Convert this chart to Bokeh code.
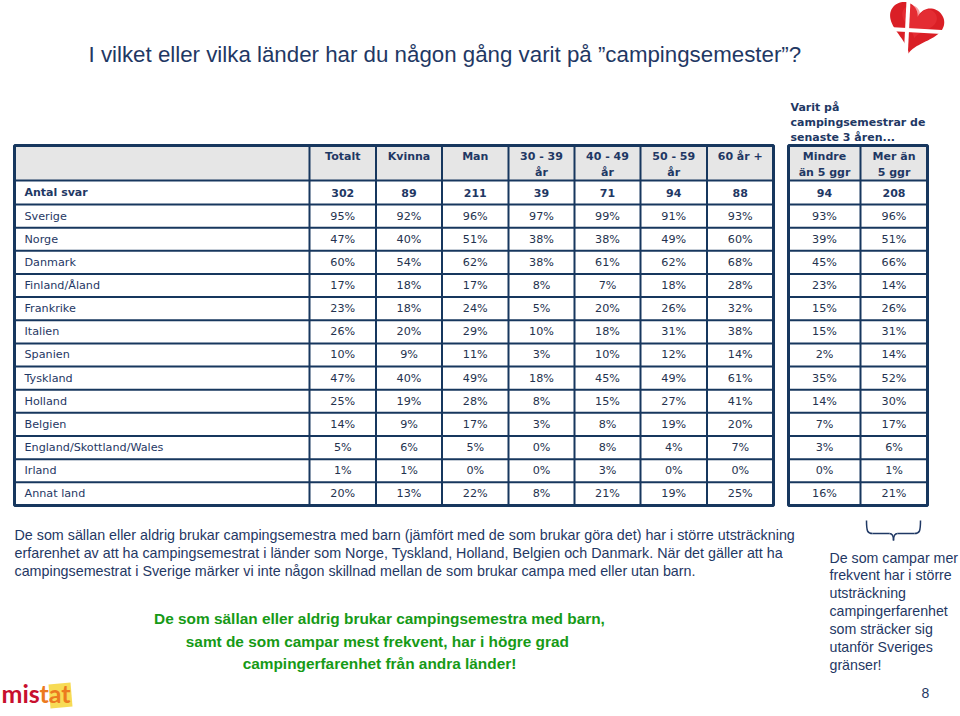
import numpy as np
from bokeh.plotting import figure
from bokeh.models import Range1d
from bokeh.core.properties import value
from bokeh.embed import file_html
from bokeh.resources import INLINE

# ---------------- data ----------------
title = "I vilket eller vilka länder har du någon gång varit på ”campingsemester”?"
countries = ["Sverige", "Norge", "Danmark", "Finland/Åland", "Frankrike", "Italien",
             "Spanien", "Tyskland", "Holland", "Belgien", "England/Skottland/Wales",
             "Irland", "Annat land"]
columns = ["Totalt", "Kvinna", "Man", "30 - 39\når", "40 - 49\når", "50 - 59\når", "60 år +"]
freq_columns = ["Mindre\nän 5 ggr", "Mer än\n5 ggr"]
freq_title = "Varit på\ncampingsemestrar de\nsenaste 3 åren..."
antal_label = "Antal svar"
antal = [302, 89, 211, 39, 71, 94, 88]
antal_freq = [94, 208]

totalt = [95, 47, 60, 17, 23, 26, 10, 47, 25, 14, 5, 1, 20]
kvinna = [92, 40, 54, 18, 18, 20, 9, 40, 19, 9, 6, 1, 13]
man = [96, 51, 62, 17, 24, 29, 11, 49, 28, 17, 5, 0, 22]
age_30_39 = [97, 38, 38, 8, 5, 10, 3, 18, 8, 3, 0, 0, 8]
age_40_49 = [99, 38, 61, 7, 20, 18, 10, 45, 15, 8, 8, 3, 21]
age_50_59 = [91, 49, 62, 18, 26, 31, 12, 49, 27, 19, 4, 0, 19]
age_60 = [93, 60, 68, 28, 32, 38, 14, 61, 41, 20, 7, 0, 25]
mindre_5 = [93, 39, 45, 23, 15, 15, 2, 35, 14, 7, 3, 0, 16]
mer_5 = [96, 51, 66, 14, 26, 31, 14, 52, 30, 17, 6, 1, 21]

main_series = [totalt, kvinna, man, age_30_39, age_40_49, age_50_59, age_60]
freq_series = [mindre_5, mer_5]

paragraph = ["De som sällan eller aldrig brukar campingsemestra med barn (jämfört med de som brukar göra det) har i större utsträckning",
             "erfarenhet av att ha campingsemestrat i länder som Norge, Tyskland, Holland, Belgien och Danmark. När det gäller att ha",
             "campingsemestrat i Sverige märker vi inte någon skillnad mellan de som brukar campa med eller utan barn."]
green_lines = ["De som sällan eller aldrig brukar campingsemestra med barn,",
               "samt de som campar mest frekvent,  har i högre grad",
               "campingerfarenhet från andra länder!"]
side_lines = ["De som campar mer", "frekvent har i större", "utsträckning",
              "campingerfarenhet", "som sträcker sig", "utanför Sveriges", "gränser!"]
page_no = "8"

# ---------------- layout ----------------
NAVY = "#1F3864"
BORDER = "#17375E"
FONT = value("DejaVu Sans")
SANS = value("Liberation Sans")

W, H = 960, 716
p = figure(width=W, height=H, x_range=Range1d(0, W), y_range=Range1d(H, 0),
           output_backend="svg", toolbar_location=None, min_border=0)
p.axis.visible = False
p.grid.visible = False
p.outline_line_color = None
p.background_fill_color = "white"

# title
p.text(x=[88], y=[54], text=[title], text_font=SANS, text_font_size="22.3px",
       text_color=NAVY, text_baseline="middle", text_align="left")

# table geometry
main_bounds = [14, 309, 375.5, 441.5, 508, 574, 640, 706.5, 773]
freq_bounds = [788, 860, 927]
head_top, head_bot = 145, 180
row_top0 = 180
first_row_h = 24
row_h = 23.15
n_rows = len(countries)
row_lines = [row_top0 + first_row_h + k * row_h for k in range(n_rows + 1)]
table_bottom = row_lines[-1]
row_centers = [row_top0 + first_row_h / 2] + [row_lines[k] + row_h / 2 for k in range(n_rows)]

# header backgrounds
for b in (main_bounds, freq_bounds):
    p.quad(left=[b[0]], right=[b[-1]], top=[head_top], bottom=[head_bot],
           fill_color="#E6E6E6", line_color=None)

# grid lines
for b in (main_bounds, freq_bounds):
    hy = [head_bot] + row_lines[:-1]
    p.segment(x0=[b[0]] * len(hy), x1=[b[-1]] * len(hy), y0=hy, y1=hy,
              line_color=BORDER, line_width=2)
    p.segment(x0=b[1:-1], x1=b[1:-1], y0=[head_top] * (len(b) - 2),
              y1=[table_bottom] * (len(b) - 2), line_color=BORDER, line_width=2)
    p.quad(left=[b[0]], right=[b[-1]], top=[head_top], bottom=[table_bottom],
           fill_color=None, line_color=BORDER, line_width=3)

def centers(b):
    return [(b[i] + b[i + 1]) / 2 for i in range(len(b) - 1)]

mc = centers(main_bounds)[1:]
fc = centers(freq_bounds)

# header texts
p.text(x=mc + fc, y=[149.5] * (len(mc) + len(fc)), text=columns + freq_columns,
       text_font=FONT, text_font_size="11px", text_font_style="bold",
       text_color=NAVY, text_baseline="top", text_align="center", text_line_height=1.25)

p.text(x=[790], y=[100], text=[freq_title], text_font=FONT, text_font_size="11px",
       text_font_style="bold", text_color=NAVY, text_baseline="top", text_align="left",
       text_line_height=1.18)

# antal svar row
p.text(x=[24], y=[row_centers[0]], text=[antal_label], text_font=FONT, text_font_size="11px",
       text_font_style="bold", text_color=NAVY, text_baseline="middle", text_align="left")
p.text(x=mc + fc, y=[row_centers[0]] * (len(mc) + len(fc)),
       text=[str(v) for v in antal + antal_freq], text_font=FONT, text_font_size="11px",
       text_font_style="bold", text_color=NAVY, text_baseline="middle", text_align="center")

# country rows
p.text(x=[24] * n_rows, y=row_centers[1:], text=countries, text_font=FONT,
       text_font_size="11.2px", text_color=NAVY, text_baseline="middle", text_align="left")
xs, ys, ts = [], [], []
for cx, series in zip(mc + fc, main_series + freq_series):
    for r, v in enumerate(series):
        xs.append(cx)
        ys.append(row_centers[r + 1])
        ts.append(f"{v}%")
p.text(x=xs, y=ys, text=ts, text_font=FONT, text_font_size="11.2px", text_color="#24324E",
       text_baseline="middle", text_align="center")

# paragraph
p.text(x=[14] * 3, y=[534, 552, 570], text=paragraph, text_font=SANS, text_font_size="14.3px",
       text_color=NAVY, text_baseline="middle", text_align="left")

# green message
p.text(x=[379] * 3, y=[618, 641, 663], text=green_lines, text_font=SANS,
       text_font_size="15.4px", text_font_style="bold", text_color="#169A16",
       text_baseline="middle", text_align="center")

# side text
p.text(x=[829] * 7, y=[557 + 17.9 * i for i in range(7)], text=side_lines, text_font=SANS,
       text_font_size="14.2px", text_color=NAVY, text_baseline="middle", text_align="left")

# brace under the frequency columns
bc = "#1F3864"
p.bezier(x0=[866, 893], y0=[520, 540], x1=[872, 897], y1=[533, 533],
         cx0=[866, 893], cy0=[531, 535], cx1=[867, 894], cy1=[533, 533],
         line_color=bc, line_width=1.5)
p.bezier(x0=[920, 893], y0=[520, 540], x1=[914, 889], y1=[533, 533],
         cx0=[920, 893], cy0=[531, 535], cx1=[919, 892], cy1=[533, 533],
         line_color=bc, line_width=1.5)
p.segment(x0=[872, 897], x1=[889, 914], y0=[533, 533], y1=[533, 533],
          line_color=bc, line_width=1.5)

# page number
p.text(x=[925], y=[692], text=[page_no], text_font=SANS, text_font_size="14px",
       text_color=NAVY, text_baseline="middle", text_align="center")

# heart logo (decorative)
t = np.linspace(0, 2 * np.pi, 120)
hx = 16 * np.sin(t) ** 3
hy = 13 * np.cos(t) - 5 * np.cos(2 * t) - 2 * np.cos(3 * t) - np.cos(4 * t)
ang = np.deg2rad(-14)
rx = hx * np.cos(ang) - hy * np.sin(ang)
ry = hx * np.sin(ang) + hy * np.cos(ang)
p.patch(x=915 + rx * 1.72, y=25 - ry * 1.72, fill_color="#DA1F26", line_color=None)
p.patch(x=918 + rx * 1.1, y=20 - ry * 1.1, fill_color="#EE3A3F", line_color=None, alpha=0.5)
p.segment(x0=[908, 880], x1=[905, 950], y0=[0, 28], y1=[60, 32],
          line_color="white", line_width=4)

# mistat logo (decorative)
p.patch(x=[48, 70, 72, 50], y=[684, 682, 706, 708], fill_color="#F6D743",
        line_color=None, alpha=0.9)
p.text(x=[1], y=[707], text=["mis"], text_font=value("Lato"), text_font_size="25px",
       text_font_style="bold", text_color="#C8102E", text_baseline="bottom", text_align="left")
p.text(x=[39], y=[707], text=["tat"], text_font=value("Lato"), text_font_size="25px",
       text_font_style="bold", text_color="#EC7A1F", text_baseline="bottom", text_align="left")

open("out.html", "w").write(file_html(p, INLINE))
